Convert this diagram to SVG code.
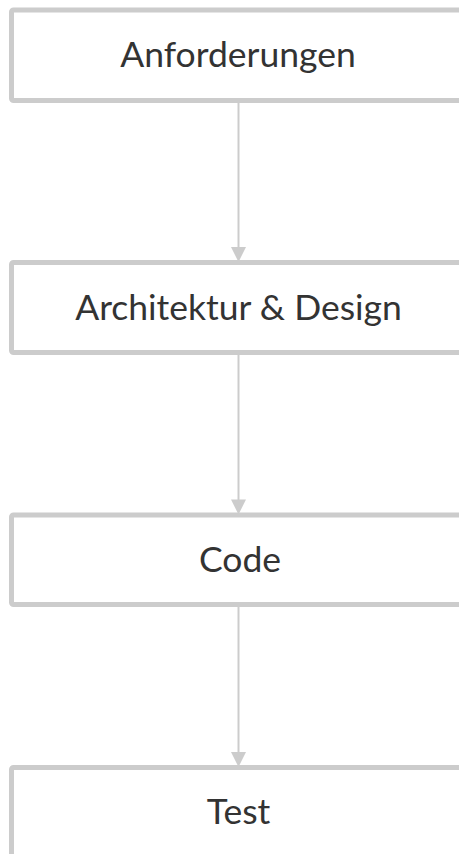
<svg xmlns="http://www.w3.org/2000/svg" width="459" height="854" viewBox="0 0 459 854">
<style>
.box{fill:#ffffff;stroke:#cccccc;stroke-width:5}
.lbl{font-family:Lato,"Open Sans","Liberation Sans",sans-serif;font-size:35.5px;fill:#333333;text-anchor:middle}
.edge{stroke:#cccccc;stroke-width:2;fill:none}
.head{fill:#cccccc}
</style>
<rect x="0" y="0" width="459" height="854" fill="#ffffff"/>
<g id="connectors">
<line class="edge" x1="238.5" y1="103" x2="238.5" y2="248"/>
<polygon class="head" points="231,247 246,247 238.5,262"/>
<line class="edge" x1="238.5" y1="355" x2="238.5" y2="500"/>
<polygon class="head" points="231,499.5 246,499.5 238.5,514.5"/>
<line class="edge" x1="238.5" y1="607" x2="238.5" y2="752"/>
<polygon class="head" points="231,752 246,752 238.5,767"/>
</g>
<g id="node-anforderungen">
<rect class="box" x="11.5" y="10" width="455" height="90.5" rx="2"/>
<text class="lbl" x="238" y="67">Anforderungen</text>
</g>
<g id="node-architektur">
<rect class="box" x="11.5" y="262.5" width="455" height="90" rx="2"/>
<text class="lbl" x="238.5" y="320">Architektur &amp; Design</text>
</g>
<g id="node-code">
<rect class="box" x="11.5" y="515" width="455" height="89.5" rx="2"/>
<text class="lbl" x="240" y="572">Code</text>
</g>
<g id="node-test">
<rect class="box" x="11.5" y="767.5" width="455" height="90" rx="2"/>
<text class="lbl" x="238.5" y="824">Test</text>
</g>
</svg>
